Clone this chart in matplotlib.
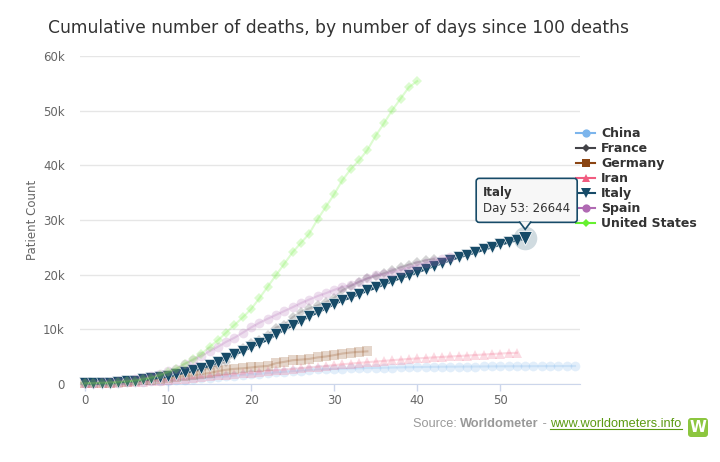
import numpy as np
import matplotlib
matplotlib.use('Agg')
import matplotlib.pyplot as plt
from matplotlib.lines import Line2D
from matplotlib.patches import FancyBboxPatch, Polygon
from matplotlib.transforms import IdentityTransform
from matplotlib.ticker import FuncFormatter

##### DATA: cumulative deaths, day 0 = first day with >= 100 deaths #####
china = [106, 132, 170, 213, 259, 304, 361, 425, 490, 562, 636, 723, 812, 909, 1017,
         1114, 1368, 1381, 1524, 1666, 1772, 1870, 2006, 2121, 2239, 2348, 2445, 2595,
         2666, 2718, 2747, 2791, 2838, 2873, 2915, 2946, 2984, 3015, 3045, 3073, 3100,
         3123, 3140, 3162, 3173, 3180, 3194, 3199, 3213, 3226, 3237, 3245, 3249, 3253,
         3259, 3274, 3274, 3281, 3285, 3291]
france = [127, 148, 175, 264, 372, 450, 562, 674, 860, 1100, 1331, 1696, 1995, 2314,
          2606, 3024, 3523, 4032, 5387, 6507, 7560, 8078, 8911, 10328, 10869, 12210,
          13197, 13832, 14393, 14967, 15729, 17167, 17920, 18681, 19323, 19718, 20265,
          20796, 21340, 21856, 22245, 22614, 22856]
germany = [123, 157, 206, 267, 342, 433, 533, 645, 775, 920, 1107, 1275, 1444, 1584,
           1810, 2016, 2349, 2607, 2767, 2871, 3022, 3194, 3294, 3804, 4052, 4352, 4459,
           4586, 4862, 5033, 5279, 5575, 5760, 5877, 5976]
iran = [107, 124, 145, 194, 237, 291, 354, 429, 514, 611, 724, 853, 988, 1135, 1284,
        1433, 1556, 1685, 1812, 1934, 2077, 2234, 2378, 2517, 2640, 2757, 2898, 3036,
        3160, 3294, 3452, 3603, 3739, 3872, 3993, 4110, 4232, 4357, 4474, 4585, 4683,
        4777, 4869, 4958, 5031, 5118, 5209, 5297, 5391, 5481, 5574, 5650, 5710]
italy = [107, 148, 197, 233, 366, 463, 631, 827, 1016, 1266, 1441, 1809, 2158, 2503,
         2978, 3405, 4032, 4825, 5476, 6077, 6820, 7503, 8165, 9134, 10023, 10779,
         11591, 12428, 13155, 13915, 14681, 15362, 15887, 16523, 17127, 17669, 18279,
         18849, 19468, 19899, 20465, 21067, 21645, 22170, 22745, 23227, 23660, 24114,
         24648, 25085, 25549, 25969, 26384, 26644]
spain = [136, 196, 294, 342, 533, 623, 830, 1043, 1375, 1772, 2311, 2808, 3647, 4365,
         5138, 5982, 6803, 7716, 8464, 9387, 10348, 11198, 11947, 12641, 13341, 14045,
         14792, 15447, 16081, 16606, 17209, 17756, 18056, 18708, 19315, 20002, 20043,
         20453, 20852, 21282, 21717, 22157, 22524, 22902, 23190]
usa = [110, 150, 210, 270, 350, 470, 620, 850, 1150, 1600, 2200, 2800, 3700, 4500,
       5500, 6800, 8000, 9400, 10800, 12200, 13700, 15700, 17800, 19900, 22000, 24100,
       25800, 27500, 30100, 32400, 34700, 37300, 39300, 40900, 42800, 45400, 47700,
       50100, 52200, 54300, 55400]

countries = ['China', 'France', 'Germany', 'Iran', 'Italy', 'Spain', 'United States']
series = [china, france, germany, iran, italy, spain, usa]
colors = ['#7cb5ec', '#434348', '#8b4513', '#f15c80', '#174b68', '#b06ab3', '#66f030']
markers = ['o', 'D', 's', '^', 'v', 'o', 'D']
msizes = [7, 5, 6.5, 6.5, 8, 7, 5]
hovered = 'Italy'
hover_day = 53

#### FIGURE ####
fig = plt.figure(figsize=(7.2, 4.62), dpi=100)
ax = fig.add_axes([80/720, 78/462, 500/720, 328/462])

for i, (name, vals) in enumerate(zip(countries, series)):
    days = np.arange(len(vals))
    if name == hovered:
        ax.plot(days, vals, color=colors[i], lw=2.2, marker=markers[i], ms=msizes[i],
                mec='white', mew=0.4, zorder=3 + i, clip_on=False)
    else:
        ax.plot(days, vals, color=colors[i], lw=1.5, marker=markers[i], ms=msizes[i],
                mew=0, alpha=0.22, zorder=3 + i, clip_on=False)

# hover halo + enlarged point
hv = series[countries.index(hovered)][hover_day]
hc = colors[countries.index(hovered)]
ax.plot(hover_day, hv, 'o', ms=17, color=hc, alpha=0.2, mew=0, zorder=20)
ax.plot(hover_day, hv, 'v', ms=9.5, color=hc, mec='white', mew=0.6, zorder=21)

ax.set_xlim(-0.6, 59.6)
ax.set_ylim(0, 60000)
ax.set_xticks(np.arange(0, 60, 10))
ax.set_yticks(np.arange(0, 60001, 10000))
ax.yaxis.set_major_formatter(FuncFormatter(lambda v, p: '0' if v == 0 else '%dk' % (v / 1000)))
ax.grid(axis='y', color='#e6e6e6', lw=1)
ax.set_axisbelow(True)
for s in ['top', 'right', 'left']:
    ax.spines[s].set_visible(False)
ax.spines['bottom'].set_color('#ccd6eb')
ax.tick_params(axis='x', colors='#ccd6eb', length=5, width=1, labelcolor='#666666',
               labelsize=8.5, pad=2)
ax.tick_params(axis='y', length=0, labelcolor='#666666', labelsize=8.5, pad=11)
ax.set_ylabel('Patient Count', color='#666666', fontsize=8.5, labelpad=3)

fig.text(48/720, 1 - 28/462, 'Cumulative number of deaths, by number of days since 100 deaths',
         fontsize=12.3, color='#333333', va='center', ha='left')

# legend (not faded)
handles = [Line2D([], [], color=c, marker=m, ms=ms * 0.85, lw=1.5, mew=0)
           for c, m, ms in zip(colors, markers, msizes)]
fig.legend(handles, countries, loc='upper left', bbox_to_anchor=(576/720, 1 - 127/462),
           frameon=False, handlelength=1.55, handletextpad=0.45, labelspacing=0.16,
           borderaxespad=0, borderpad=0,
           prop={'weight': 'bold', 'size': 9}, labelcolor='#333333')

# tooltip
px, py = ax.transData.transform((hover_day, hv))
bx, by, bw, bh = px - 49, py + 16, 101, 44
box = FancyBboxPatch((bx, by), bw, bh, boxstyle='round,pad=0,rounding_size=3',
                     transform=IdentityTransform(), fc='#f7f7f7', ec=hc, lw=1.2, zorder=30)
fig.add_artist(box)
ptr = Polygon([(px - 6, by + 0.9), (px, by - 7), (px + 6, by + 0.9)], closed=False,
              transform=IdentityTransform(), fc='#f7f7f7', ec=hc, lw=1.2, zorder=31)
fig.add_artist(ptr)
fig.text(bx + 7, by + 30, hovered, transform=IdentityTransform(), fontsize=8.5,
         weight='bold', color='#333333', va='center', zorder=32)
fig.text(bx + 7, by + 14, 'Day %d: %d' % (hover_day, hv), transform=IdentityTransform(),
         fontsize=8.5, color='#333333', va='center', zorder=32)

# source line
fig.canvas.draw()
r = fig.canvas.get_renderer()
x0 = 413
yb = 462 - 427
parts = [('Source: ', 'normal', '#999999'), ('Worldometer', 'bold', '#999999'),
         (' - ', 'normal', '#999999'), ('www.worldometers.info', 'normal', '#5b9a12')]
for txt, w, c in parts:
    t = fig.text(x0, yb, txt, transform=IdentityTransform(), fontsize=9.2, weight=w,
                 color=c, family='Liberation Sans', va='baseline')
    ext = t.get_window_extent(r)
    if txt.startswith('www'):
        fig.add_artist(Line2D([ext.x0, ext.x1], [yb - 2, yb - 2], color=c, lw=0.8,
                              transform=IdentityTransform()))
    x0 = ext.x1
logo = FancyBboxPatch((688, 462 - 437), 20, 19, boxstyle='round,pad=0,rounding_size=3',
                      transform=IdentityTransform(), fc='#8cc63f', ec='none')
fig.add_artist(logo)
fig.text(698, 462 - 427.5, 'W', transform=IdentityTransform(), fontsize=11, weight='bold',
         color='white', ha='center', va='center', family='DejaVu Sans')

fig.savefig('out.png', dpi=100)
